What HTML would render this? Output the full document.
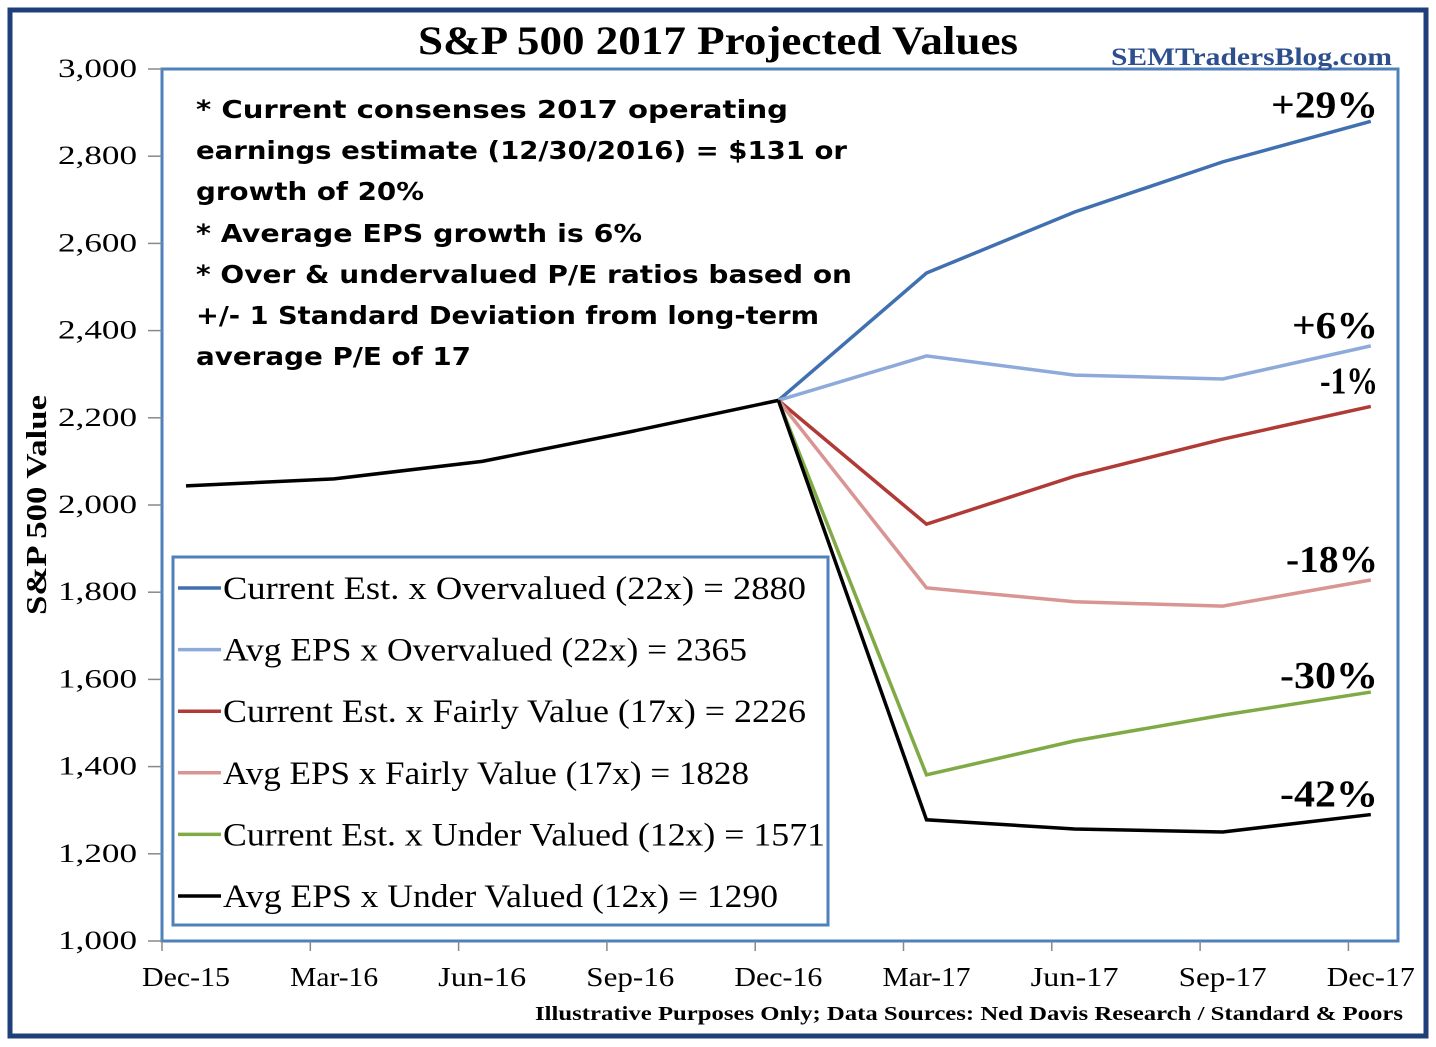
<!DOCTYPE html>
<html><head><meta charset="utf-8"><style>
body{margin:0;background:#fff}
svg{display:block}
text{font-family:"Liberation Serif",serif}
.an{font-family:"DejaVu Sans",sans-serif;font-weight:bold;font-size:25px}
</style></head><body>
<svg id="c" width="1436" height="1047">
<rect x="10" y="10" width="1416" height="1026" fill="#fff" stroke="#1f3f7a" stroke-width="5"/>
<rect x="162" y="69" width="1236" height="872" fill="none" stroke="#4f81bd" stroke-width="3"/>
<text x="418" y="54" textLength="600" lengthAdjust="spacingAndGlyphs" font-size="40" font-weight="bold">S&amp;P 500 2017 Projected Values</text>
<text x="1111" y="65" textLength="281" lengthAdjust="spacingAndGlyphs" font-size="25" font-weight="bold" fill="#2e4f8e">SEMTradersBlog.com</text>
<text transform="translate(46,615) rotate(-90)" textLength="220" lengthAdjust="spacingAndGlyphs" font-size="28" font-weight="bold">S&amp;P 500 Value</text>
<g id="ax"></g><g id="lines"></g>
<g>
<text class="an" x="196" y="118" textLength="592" lengthAdjust="spacingAndGlyphs">* Current consenses 2017 operating</text>
<text class="an" x="196" y="159" textLength="651" lengthAdjust="spacingAndGlyphs">earnings estimate (12/30/2016) = $131 or</text>
<text class="an" x="196" y="200" textLength="228" lengthAdjust="spacingAndGlyphs">growth of 20%</text>
<text class="an" x="196" y="242" textLength="446" lengthAdjust="spacingAndGlyphs">* Average EPS growth is 6%</text>
<text class="an" x="196" y="283" textLength="656" lengthAdjust="spacingAndGlyphs">* Over &amp; undervalued P/E ratios based on</text>
<text class="an" x="196" y="324" textLength="623" lengthAdjust="spacingAndGlyphs">+/- 1 Standard Deviation from long-term</text>
<text class="an" x="196" y="365" textLength="275" lengthAdjust="spacingAndGlyphs">average P/E of 17</text>
</g>
<rect x="173" y="557" width="655" height="368" fill="#fff" stroke="#4f81bd" stroke-width="3"/>
<g id="leg"></g>
<text x="535" y="1020" textLength="868" lengthAdjust="spacingAndGlyphs" font-size="20" font-weight="bold">Illustrative Purposes Only; Data Sources: Ned Davis Research / Standard &amp; Poors</text>
</svg>
<script>
const categories=["Dec-15","Mar-16","Jun-16","Sep-16","Dec-16","Mar-17","Jun-17","Sep-17","Dec-17"];
const history=[2044,2060,2100,2168,2240];
const overCur=[2532,2672,2787,2880];
const overAvg=[2342,2298,2289,2365];
const fairCur=[1956,2066,2151,2226];
const fairAvg=[1810,1778,1768,1828];
const underCur=[1381,1459,1518,1571];
const underAvg=[1278,1257,1250,1290];
const yTicks=[1000,1200,1400,1600,1800,2000,2200,2400,2600,2800,3000];
const seriesNames=["Current Est. x Overvalued (22x) = 2880","Avg EPS x Overvalued (22x) = 2365","Current Est. x Fairly Value (17x) = 2226","Avg EPS x Fairly Value (17x) = 1828","Current Est. x Under Valued (12x) = 1571","Avg EPS x Under Valued (12x) = 1290"];
const legendWidths=[583,524,583,526,602,555];
const pctLabels=["+29%","+6%","-1%","-18%","-30%","-42%"];
const colors=["#4070b0","#8eaadb","#b03a36","#d99593","#7faa45","#000"];
const NS="http://www.w3.org/2000/svg";
const x=i=>186+148.1*i;
const y=v=>941-(v-1000)*872/2000;
function mk(t,a,p){const e=document.createElementNS(NS,t);for(const k in a)e.setAttribute(k,a[k]);p.appendChild(e);return e;}
const ax=document.getElementById('ax');
yTicks.forEach(v=>{
 const l=mk('line',{x1:148,x2:162,y1:y(v),y2:y(v),stroke:'#888','stroke-width':1.5},ax);
 
 
 const t=mk('text',{x:58,y:y(v)+8,textLength:79,lengthAdjust:'spacingAndGlyphs','font-size':26},ax);
 t.textContent=v.toLocaleString('en-US');
 
 
});
categories.forEach((c,i)=>{
 const l=mk('line',{x1:162+148.3*i,x2:162+148.3*i,y1:941,y2:951,stroke:'#888','stroke-width':1.5},ax);
 
 
 const t=mk('text',{x:x(i)-44,y:986,textLength:88,lengthAdjust:'spacingAndGlyphs','font-size':27},ax);
 t.textContent=c;
 
 
});
const g=document.getElementById('lines');
const proj=[overCur,overAvg,fairCur,fairAvg,underCur,underAvg];
const labelOffsets=[4,0,-5,0,4,0];
const labelWidths=[107,86,58,92,98,98];
proj.forEach((s,k)=>{
 const pts=[[4,history[4]]].concat(s.map((v,j)=>[5+j,v]));
 const p=mk('polyline',{points:pts.map(q=>x(q[0])+','+y(q[1])).join(' '),fill:'none',stroke:colors[k],'stroke-width':3.5},g);
 
 
 const t=mk('text',{x:1378-labelWidths[k],y:y(s[3])+labelOffsets[k]-8,textLength:labelWidths[k],lengthAdjust:'spacingAndGlyphs','font-size':38,'font-weight':'bold'},g);
 t.textContent=pctLabels[k];
 
 
});
const h=mk('polyline',{points:history.map((v,i)=>x(i)+','+y(v)).join(' '),fill:'none',stroke:'#000','stroke-width':3.5},g);


const leg=document.getElementById('leg');
seriesNames.forEach((n,k)=>{
 const yy=588+61.6*k;
 const l=mk('line',{x1:178,x2:221,y1:yy,y2:yy,stroke:colors[k],'stroke-width':3.5},leg);
 
 
 const t=mk('text',{x:223,y:yy+11,textLength:legendWidths[k],lengthAdjust:'spacingAndGlyphs','font-size':33},leg);
 t.textContent=n;
 
 
});
</script>
</body></html>
